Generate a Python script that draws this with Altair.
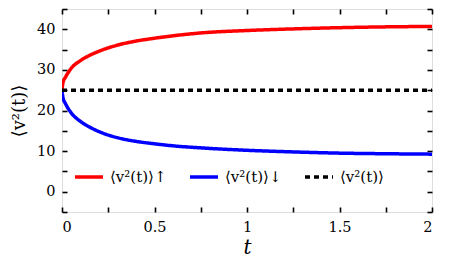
import altair as alt
import pandas as pd

# ---- data ----
t_vals = [0, 0.005, 0.02, 0.05, 0.1, 0.15, 0.2, 0.3, 0.4, 0.5, 0.6, 0.75, 1.0, 1.25, 1.5, 1.75, 2.0]
v_up = [25, 26.8, 28.3, 30.4, 32.3, 33.6, 34.6, 36.1, 37.1, 37.8, 38.4, 39.1, 39.7, 40.1, 40.4, 40.6, 40.7]
v_down = [25, 23.2, 21.6, 19.4, 17.3, 15.9, 14.8, 13.3, 12.4, 11.8, 11.3, 10.8, 10.2, 9.8, 9.5, 9.35, 9.25]
t_mean = [0, 2]
v_mean = [25, 25]

names = ["⟨v²(t)⟩↑", "⟨v²(t)⟩↓", "⟨v²(t)⟩"]
colors = ["#ff0000", "#0000ff", "#000000"]
dashes = [[1, 0], [1, 0], [5, 4]]

x_major = [0, 0.5, 1, 1.5, 2]
x_minor = [0, 0.25, 0.5, 0.75, 1, 1.25, 1.5, 1.75, 2]
y_major = [0, 10, 20, 30, 40]
y_minor = [-5, 0, 5, 10, 15, 20, 25, 30, 35, 40, 45]

rows = []
for t, v in zip(t_vals, v_up):
    rows.append({"t": t, "v": v, "s": names[0], "o": 0})
for t, v in zip(t_vals, v_down):
    rows.append({"t": t, "v": v, "s": names[1], "o": 1})
for t, v in zip(t_mean, v_mean):
    rows.append({"t": t, "v": v, "s": names[2], "o": 2})
df = pd.DataFrame(rows)

FONT = "DejaVu Serif"
xs = alt.Scale(domain=[0, 2], nice=False, zero=False)
ys = alt.Scale(domain=[-5, 45], nice=False, zero=False)

W, H = 370, 203

lines = alt.Chart(df).mark_line(strokeWidth=3.5, interpolate="monotone", clip=True).encode(
    x=alt.X("t:Q", scale=xs,
            axis=alt.Axis(orient="bottom", values=x_major, ticks=False, domain=False, grid=False,
                          labelFontSize=14.5, labelColor="black", labelPadding=8,
                          labelExpr="format(datum.value, '')",
                          title="t", titleFontStyle="italic", titleFontWeight="normal",
                          titleFontSize=20, titleColor="black", titleBaseline="alphabetic",
                          titleY=41)),
    y=alt.Y("v:Q", scale=ys,
            axis=alt.Axis(orient="left", values=y_major, ticks=False, domain=False, grid=False,
                          labelFontSize=14.5, labelColor="black", labelPadding=7,
                          title="⟨v²(t)⟩", titleFontWeight="normal",
                          titleFontSize=18, titleColor="black", titlePadding=8)),
    color=alt.Color("s:N", scale=alt.Scale(domain=names, range=colors),
                    legend=alt.Legend(orient="none", legendX=11, legendY=152, direction="horizontal",
                                      columns=3, title=None, symbolType="stroke", symbolSize=784,
                                      symbolStrokeWidth=3.5, labelFontSize=15,
                                      labelColor="black", labelOffset=5, columnPadding=16, padding=0,
                                      labelLimit=200)),
    strokeDash=alt.StrokeDash("s:N", scale=alt.Scale(domain=names, range=dashes), legend=None),
    detail="s:N",
    order="o:Q",
)

tick_style = dict(labels=False, domain=False, grid=False, ticks=True, tickSize=5, tickWidth=1.6,
                  tickColor="black", title=None)

ticks_a = alt.Chart(df).mark_point(opacity=0).encode(
    x=alt.X("t:Q", scale=xs, axis=alt.Axis(orient="top", offset=-H, values=x_minor, **tick_style)),
    y=alt.Y("v:Q", scale=ys, axis=alt.Axis(orient="right", offset=-W, values=y_minor, **tick_style)),
)
ticks_b = alt.Chart(df).mark_point(opacity=0).encode(
    x=alt.X("t:Q", scale=xs, axis=alt.Axis(orient="bottom", offset=-H, values=x_minor, **tick_style)),
    y=alt.Y("v:Q", scale=ys, axis=alt.Axis(orient="left", offset=-W, values=y_minor, **tick_style)),
)

chart = alt.layer(lines, ticks_a, ticks_b).resolve_axis(x="independent", y="independent").properties(
    width=W, height=H,
    autosize=alt.AutoSizeParams(type="none"),
    padding={"left": 54, "top": 1, "right": 23, "bottom": 46},
).configure_view(stroke="black", strokeWidth=2).configure(
    background="white", font=FONT
).configure_axis(labelFont=FONT, titleFont=FONT).configure_legend(labelFont=FONT, titleFont=FONT)

chart.save("out.html", embed_options={"renderer": "svg", "actions": False})
